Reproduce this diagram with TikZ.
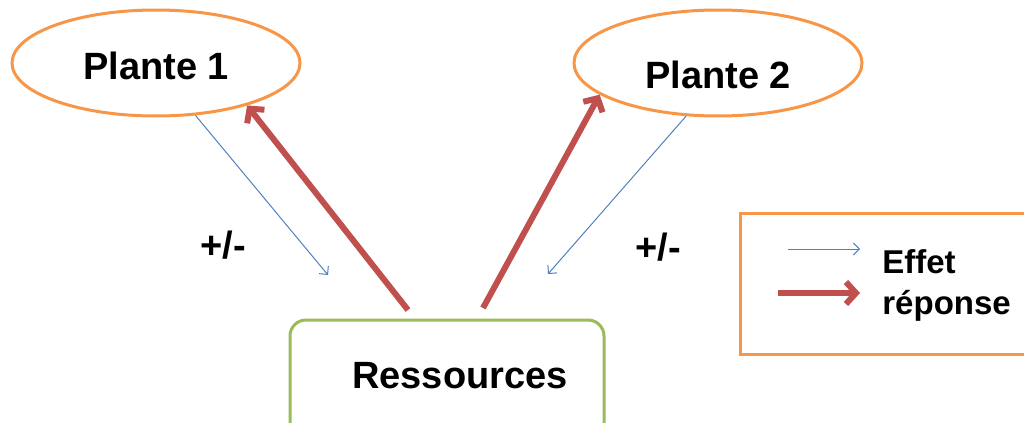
\documentclass[tikz,border=0pt]{standalone}
\usepackage{fontspec}
\setmainfont{Liberation Sans}
\usetikzlibrary{shapes.geometric,arrows.meta}

\definecolor{orangeplante}{RGB}{247,150,70}
\definecolor{vertres}{RGB}{155,187,89}
\definecolor{rougerep}{RGB}{192,80,77}
\definecolor{bleueff}{RGB}{79,129,189}

\begin{document}
\begin{tikzpicture}[x=0.5pt,y=-0.5pt,
		plante/.style={ellipse, draw=orangeplante, line width=1.5pt, minimum width=144pt, minimum height=53pt, font=\fontsize{19}{22}\selectfont\bfseries},
		ressource/.style={draw=vertres, line width=1.5pt, rounded corners=8pt, minimum width=157pt, minimum height=60pt, font=\fontsize{19}{22}\selectfont\bfseries},
		signe/.style={font=\fontsize{19}{22}\selectfont\bfseries},
		effet/.style={draw=bleueff, line width=0.5pt, -{Straight Barb[length=3pt,width=6pt]}},
		reponse/.style={draw=rougerep, line width=3pt, -{Straight Barb[length=5pt,width=11pt]}}]
	\useasboundingbox (0,0) rectangle (1024,423);

	\node (plante1) [plante] at (156,63) {\raisebox{-8.3pt}[0pt][0pt]{Plante 1}};
	\node (plante2) [plante] at (718,63) {\raisebox{-12.8pt}[0pt][0pt]{Plante 2}};
	\node (res) [ressource] at (447,380) {\hspace*{13pt}\raisebox{-4.3pt}[0pt][0pt]{Ressources}};

	\coordinate (effet1) at (328,275);
	\coordinate (rep1) at (408,310);
	\coordinate (effet2) at (548,274);
	\coordinate (rep2) at (483,308);

	% effets et reponses
	\draw [effet] (plante1.-53) -- (effet1);
	\draw [reponse] (rep1) -- (plante1.-25);
	\draw [effet] (plante2.239) -- (effet2);
	\draw [reponse] (rep2) -- (plante2.195);

	\node (signe1) [signe] at (223,245) {+/-};
	\node (signe2) [signe] at (658,247) {+/-};

	% legende
	\node (legende) [draw=orangeplante, line width=1.5pt, minimum width=150pt, minimum height=70.5pt] at (890,283.5) {};
	\coordinate (le1) at (788,249);
	\coordinate (le2) at (860,249);
	\coordinate (lr1) at (778,293);
	\coordinate (lr2) at (860,293);
	\draw [effet] (le1) -- (le2);
	\draw [reponse] (lr1) -- (lr2);
	\node (leffet) [anchor=west, inner sep=0pt, font=\fontsize{16.5}{19}\selectfont\bfseries] at (882,262) {Effet};
	\node (lreponse) [anchor=west, inner sep=0pt, font=\fontsize{16.5}{19}\selectfont\bfseries] at (882,306) {réponse};
\end{tikzpicture}
\end{document}
